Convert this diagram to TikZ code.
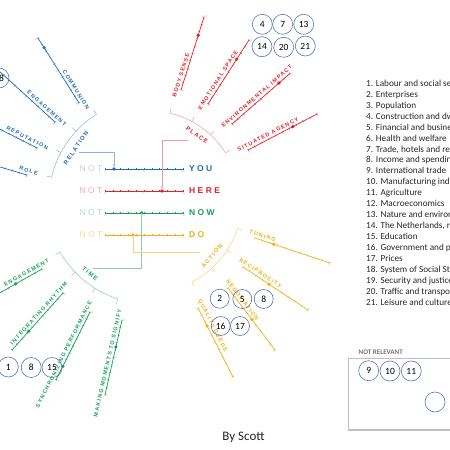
\documentclass[tikz,border=0pt]{standalone}
\usepackage{fontspec}
\setmainfont{Carlito}
\newfontfamily\labfont[LetterSpace=22]{Liberation Sans}
\newfontfamily\wordfont[LetterSpace=28]{Liberation Sans}
\usepackage{tikz}
\usetikzlibrary{calc,arrows.meta,decorations.markings}
\definecolor{relblue}{HTML}{1F6DB5}
\definecolor{rellight}{HTML}{8DB5DC}
\definecolor{plred}{HTML}{E5202A}
\definecolor{pllight}{HTML}{F29A9C}
\definecolor{tigreen}{HTML}{16A05A}
\definecolor{tilight}{HTML}{8ACFA8}
\definecolor{acyel}{HTML}{F2AE12}
\definecolor{aclight}{HTML}{F7D27A}
\definecolor{notblue}{HTML}{C8CCD6}
\definecolor{notred}{HTML}{F7A8A8}
\definecolor{notgreen}{HTML}{B2DEC4}
\definecolor{notyel}{HTML}{F9DB94}
\definecolor{ringblue}{HTML}{5577B0}
\definecolor{boxgray}{HTML}{BFBFBF}

\begin{document}
\begin{tikzpicture}[x=1pt,y=-1pt,
  ruler/.style={line width=0.7pt,postaction={decorate},decoration={markings,mark=between positions 0 and 1 step 0.0999 with {\draw[line width=0.3pt] (0,-1.2pt) -- (0,1.2pt);}}},
  ticklab/.style={font=\fontsize{3}{3}\selectfont,inner sep=0.8pt},
  lab/.style={font=\labfont\fontsize{5.5}{6}\selectfont\bfseries,inner sep=2.2pt},
  cat/.style={font=\labfont\fontsize{6}{6}\selectfont\bfseries,inner sep=0pt},
  word/.style={font=\wordfont\fontsize{8.5}{9}\selectfont\bfseries,anchor=west,inner sep=0pt},
  notword/.style={font=\wordfont\fontsize{8.5}{9}\selectfont,inner sep=0pt},
  ring/.style={circle,draw=ringblue,line width=0.6pt,minimum size=20pt,inner sep=0pt,font=\fontsize{9.5}{10}\selectfont},
  link/.style={line width=0.6pt},
  bracket/.style={line width=0.5pt}]
\useasboundingbox (0,0) rectangle (450,450);
\clip (0,0) rectangle (450,450);

\foreach \y/\c/\l/\n/\w/\v/\nm in {169/relblue/rellight/notblue/YOU/1.15/you,191/plred/pllight/notred/HERE/7.3/here,213/tigreen/tilight/notgreen/NOW/4.7/now,235/acyel/aclight/notyel/DO/3.6/do}{
  \node[notword,text=\n] (not\nm) at (91,\y) {NOT};
  \draw[ruler,\c] (105,\y) -- (183,\y)
    node[ticklab,pos=0,below,text=\l]{0}
    node[ticklab,pos=.5,below,text=\l]{5}
    node[ticklab,pos=1,below,text=\l]{10};
  \node[word,text=\c] (w\nm) at (189,\y) {\w};
  \coordinate (\nm) at ($(105,\y)!\v/10!(183,\y)$);
  \fill[\c] (\nm) circle (1.9);
}

\foreach \sx/\sy/\ex/\ey/\v/\t in {38/38/79/103/1.5/COMMUNION,-2/70/55/122/-1/ENGAGEMENT,-32/113/37/148/-1/REPUTATION,-47/153/27/175/-1/ROLE}{
  \draw[ruler,relblue] (\sx,\sy) -- (\ex,\ey)
    node[ticklab,pos=0,sloped,below,text=rellight]{0}
    node[ticklab,pos=.5,sloped,below,text=rellight]{5}
    node[ticklab,pos=1,sloped,below,text=rellight]{10}
    node[lab,pos=1.16,sloped,anchor=south east]{\t};
  \ifdim\v pt>0pt \fill[relblue] ($(\sx,\sy)!\v/10!(\ex,\ey)$) circle (1.8); \fi
}
\foreach \sx/\sy/\ex/\ey/\v/\t in {181/90/204/17/7.5/BODY SENSE,208/104/249/40/7/EMOTIONAL SPACE,232/124/290/73.4/8.1/ENVIRONMENTAL IMPACT,248/150/317/114/6.5/SITUATED AGENCY}{
  \draw[ruler,plred] (\sx,\sy) -- (\ex,\ey)
    node[ticklab,pos=0,sloped,below,text=pllight]{0}
    node[ticklab,pos=.5,sloped,below,text=pllight]{5}
    node[ticklab,pos=1,sloped,below,text=pllight]{10}
    node[lab,pos=-.15,sloped,anchor=south west]{\t};
  \fill[plred] ($(\sx,\sy)!\v/10!(\ex,\ey)$) circle (1.8);
}
\foreach \sx/\sy/\ex/\ey/\v/\t in {-25/307/42/269/6.1/ENGAGEMENT,12/350/63/293/3.3/INTEGRATING RHYTHM,56/380/90/312/2/SYNCHRONIZING PERFORMANCE,105/395/122/320/6.4/MAKING MOMENTS TO SIGNIFY}{
  \draw[ruler,tigreen] (\sx,\sy) -- (\ex,\ey)
    node[ticklab,pos=0,sloped,below,text=tilight]{0}
    node[ticklab,pos=.5,sloped,below,text=tilight]{5}
    node[ticklab,pos=1,sloped,below,text=tilight]{10}
    node[lab,pos=1.16,sloped,anchor=south east]{\t};
  \fill[tigreen] ($(\sx,\sy)!\v/10!(\ex,\ey)$) circle (1.8);
}
\foreach \sx/\sy/\ex/\ey/\v/\t in {255/238/330/263/2.5/TUNING,243/267/308/310/4/RECIPROCITY,228/288/275/350/5.1/NEGOTIATION,198/308/233/377/2.6/QUALITY DEEDS}{
  \draw[ruler,acyel] (\sx,\sy) -- (\ex,\ey)
    node[ticklab,pos=0,sloped,below,text=aclight]{0}
    node[ticklab,pos=.5,sloped,below,text=aclight]{5}
    node[ticklab,pos=1,sloped,below,text=aclight]{10}
    node[lab,pos=-.12,sloped,anchor=south west]{\t};
  \fill[acyel] ($(\sx,\sy)!\v/10!(\ex,\ey)$) circle (1.8);
}

\draw[bracket,rellight] (150,200) ++(193:101) arc[start angle=193,end angle=238,radius=101];
\foreach \a in {193,208,223,238} \draw[bracket,rellight] (150,200) ++(\a:101) -- ++(\a:5);
\draw[bracket,pllight] (150,200) ++(283:89) arc[start angle=283,end angle=328,radius=89];
\foreach \a in {283,298,313,328} \draw[bracket,pllight] (150,200) ++(\a:89) -- ++(\a:5);
\draw[bracket,tilight] (150,200) ++(108:104) arc[start angle=108,end angle=150,radius=104];
\foreach \a in {108,122,136,150} \draw[bracket,tilight] (150,200) ++(\a:104) -- ++(\a:5);
\draw[bracket,aclight] (150,200) ++(18:92) arc[start angle=18,end angle=63,radius=92];
\foreach \a in {18,33,48,63} \draw[bracket,aclight] (150,200) ++(\a:92) -- ++(\a:5);

\node[cat,text=relblue,rotate=56] (relation) at (76,148) {RELATION};
\node[cat,text=plred,rotate=-36] (place) at (197,135) {PLACE};
\node[cat,text=tigreen,rotate=-40] (time) at (90,274) {TIME};
\node[cat,text=acyel,rotate=50] (action) at (212,256) {ACTION};

\coordinate (relout) at (79,152);
\coordinate (plout) at (188,140);
\coordinate (tiout) at (93,268);
\coordinate (acout) at (200,252);
\draw[link,rellight,-{Latex[length=2.5pt,width=2pt]},shorten >=1.8pt] (relout) -| (you);
\draw[link,pllight,-{Latex[length=2.5pt,width=2pt]},shorten >=1.8pt] (plout) -| (here);
\draw[link,tilight] (tiout) -| (now);
\draw[link,aclight] (acout) -| (do);

\node[ring] (c4) at (262.3,24.3) {4};
\node[ring] (c7) at (282.7,24.3) {7};
\node[ring] (c13) at (303.7,24.3) {13};
\node[ring] (c14) at (262,46.7) {14};
\node[ring] (c20) at (283.7,47.3) {20};
\node[ring] (c21) at (305.3,46) {21};
\node[ring] (c18) at (-1,78) {18};
\node[ring] (c1) at (8.3,367) {1};
\node[ring] (c8a) at (31.2,367.5) {8};
\node[ring] (c15) at (52,367.5) {15};
\node[ring,minimum size=19pt] (c2) at (219.7,298.7) {2};
\node[ring,minimum size=19pt] (c5) at (242.3,299) {5};
\node[ring,minimum size=19pt] (c8b) at (263.7,299) {8};
\node[ring,minimum size=19pt] (c16) at (220.7,326) {16};
\node[ring,minimum size=19pt] (c17) at (240,326) {17};

\node[anchor=west,font=\bfseries\fontsize{7}{8}\selectfont,text=black!55,inner sep=0pt] (nrel) at (358.5,352) {NOT RELEVANT};
\draw[boxgray,line width=1.2pt] (348.3,358.3) rectangle (470,430);
\node[ring] (c9) at (368.7,370.7) {9};
\node[ring] (c10) at (390,371) {10};
\node[ring] (c11) at (411.3,371) {11};
\node[ring] (cx) at (435,402) {};

\foreach \i/\t in {1/Labour and social security,2/Enterprises,3/Population,4/Construction and dwellings,5/Financial and business services,6/Health and welfare,7/{Trade, hotels and restaurants},8/Income and spending,9/International trade,10/Manufacturing industry,11/Agriculture,12/Macroeconomics,13/Nature and environment,14/{The Netherlands, regional},15/Education,16/Government and politics,17/Prices,18/System of Social Statistical Datasets,19/Security and justice,20/Traffic and transport,21/Leisure and culture}
  \node[anchor=base west,inner sep=0pt,font=\fontsize{9.2}{10}\selectfont,text=black!85] (leg\i) at (366,{86.3+(\i-1)*10.95}) {\i. \t};

\node[font=\fontsize{13}{15}\selectfont,text=black!85] (by) at (243.5,437) {By Scott};
\end{tikzpicture}
\end{document}
